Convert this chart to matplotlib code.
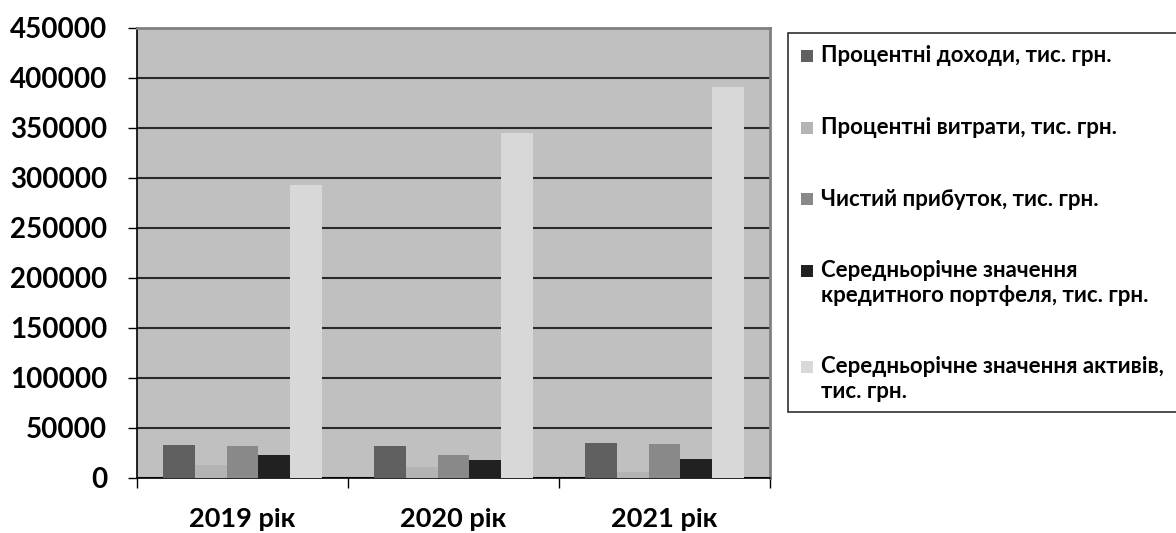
import matplotlib
matplotlib.use("Agg")
import matplotlib.pyplot as plt
from matplotlib.patches import Rectangle
import numpy as np

plt.rcParams['font.family'] = ['Lato', 'Open Sans', 'DejaVu Sans']
plt.rcParams['font.weight'] = 'bold'

years = ["2019 рік", "2020 рік", "2021 рік"]
series_names = [
    "Процентні доходи, тис. грн.",
    "Процентні витрати, тис. грн.",
    "Чистий прибуток, тис. грн.",
    "Середньорічне значення\nкредитного портфеля, тис. грн.",
    "Середньорічне значення активів,\nтис. грн.",
]
interest_income = [33400, 32400, 35000]
interest_expense = [13400, 10700, 5700]
net_profit = [31700, 23400, 33700]
avg_loan_portfolio = [23400, 18400, 19000]
avg_assets = [293300, 345000, 391000]
values = [interest_income, interest_expense, net_profit, avg_loan_portfolio, avg_assets]

colors = ["#606060", "#b4b4b4", "#898989", "#212121", "#d8d8d8"]
y_ticks = np.arange(0, 450001, 50000)

W, H = 1176, 533
fig = plt.figure(figsize=(W / 100, H / 100), dpi=100)
ax = fig.add_axes([137 / W, (H - 478) / H, (770 - 137) / W, (478 - 28) / H])
ax.set_facecolor("#c0c0c0")

n = len(values)
bar_w = 1.0 / (n + 1.6)
x = np.arange(len(years)) + 0.5
for i, (vals, c) in enumerate(zip(values, colors)):
    offs = (i - (n - 1) / 2) * bar_w
    ax.bar(x + offs, vals, width=bar_w, color=c, edgecolor="none", zorder=3)

ax.set_xlim(0, len(years))
ax.set_ylim(0, 450000)
ax.set_yticks(y_ticks)
ax.set_yticklabels([str(v) for v in y_ticks], fontsize=20, fontweight="bold")
ax.yaxis.grid(True, color="#2a2a2a", linewidth=1.5, zorder=1)
ax.set_axisbelow(True)

ax.set_xticks(np.arange(len(years) + 1))
ax.set_xticklabels([])
ax.set_xticks(x, minor=True)
ax.set_xticklabels(years, minor=True, fontsize=19.5, fontweight="bold")
ax.tick_params(axis="x", which="minor", length=0, pad=21)
ax.tick_params(axis="x", which="major", length=7, width=1, color="#000000")
ax.tick_params(axis="y", length=6.5, width=1, color="#000000", pad=15)

for side in ("top", "right"):
    ax.spines[side].set_color("#808080")
    ax.spines[side].set_linewidth(2)
ax.spines["left"].set_color("#000000")
ax.spines["bottom"].set_color("#000000")
ax.spines["left"].set_linewidth(1.2)
ax.spines["bottom"].set_linewidth(1.2)

# legend drawn as a framed box with square swatches
leg_box = Rectangle((788 / W, (H - 412) / H), (W + 5 - 788) / W, (412 - 33) / H,
                    transform=fig.transFigure, facecolor="white",
                    edgecolor="#303030", linewidth=1.2)
fig.add_artist(leg_box)
row_y = [56, 128, 199, 283, 379]
for name, c, yy in zip(series_names, colors, row_y):
    sq_y = yy - 12 if "\n" in name else yy
    fig.add_artist(Rectangle((801 / W, (H - sq_y - 6) / H), 12 / W, 12 / H,
                             transform=fig.transFigure, facecolor=c, edgecolor="none"))
    fig.text(821 / W, (H - yy) / H, name, fontsize=16, fontweight="bold",
             va="center", ha="left", multialignment="left", linespacing=1.2)

fig.savefig("out.png", dpi=100)
